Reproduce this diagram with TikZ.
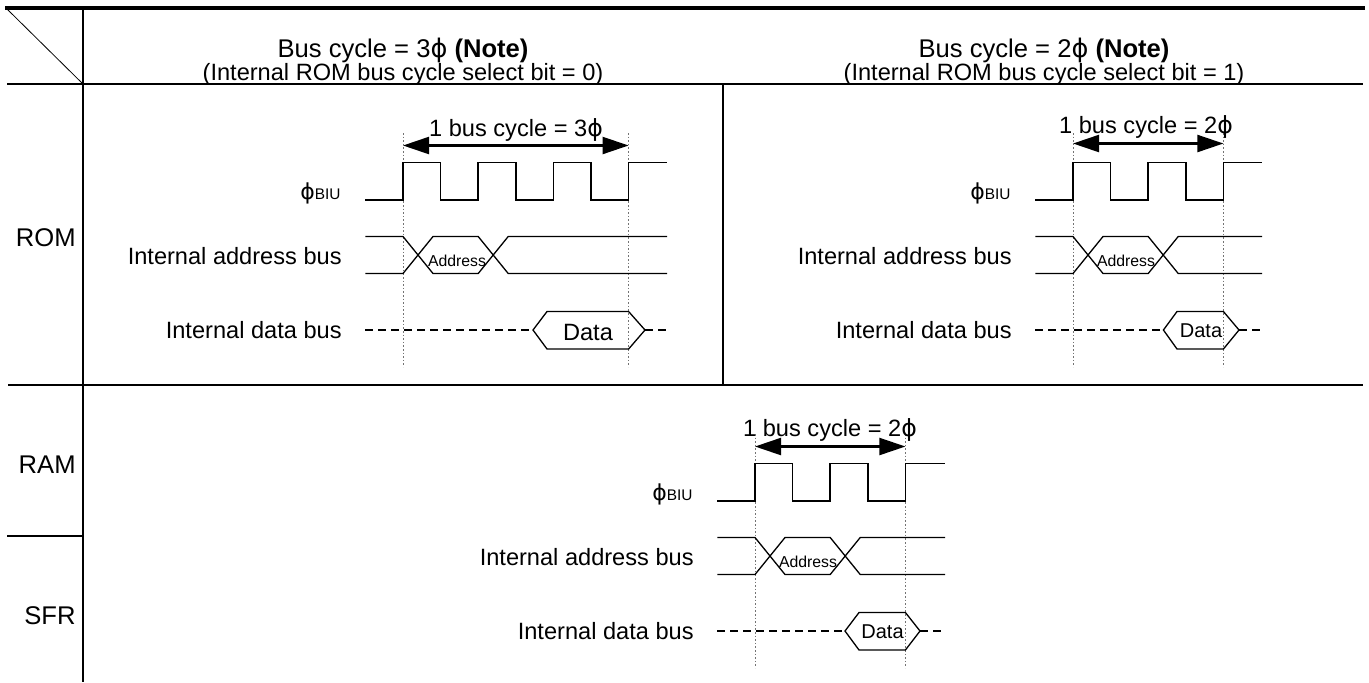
\documentclass[tikz,border=0pt]{standalone}
\usepackage{fontspec}
\setmainfont{Liberation Sans}
\newfontfamily\phfont{DejaVu Sans}
\usetikzlibrary{arrows.meta}
\newcommand{\phis}{{\phfont ϕ}}
\tikzstyle{rule}=[line width=0.85pt]
\tikzstyle{toprule}=[line width=2pt]
\tikzstyle{midrule}=[line width=1.35pt]
\tikzstyle{clk}=[line width=0.85pt]
\tikzstyle{bus}=[line width=0.65pt]
\tikzstyle{idle}=[line width=0.65pt,dash pattern=on 4pt off 2.5pt]
\tikzstyle{guide}=[line width=0.5pt,black!55,dash pattern=on 0.8pt off 1pt]
\tikzstyle{cyc}=[line width=1.1pt,{Triangle[length=13pt,width=8.5pt]}-{Triangle[length=13pt,width=8.5pt]}]
\tikzstyle{txt}=[inner sep=0pt,anchor=base,font=\fontsize{11.8}{14}\selectfont]
\tikzstyle{head}=[inner sep=0pt,anchor=base,font=\fontsize{12.8}{15}\selectfont]
\tikzstyle{siglbl}=[txt,anchor=base east]
\tikzstyle{rowlbl}=[inner sep=0pt,anchor=base east,font=\fontsize{12.8}{15}\selectfont]
\tikzstyle{tiny}=[inner sep=0pt,anchor=base,font=\fontsize{7.9}{9}\selectfont]
\tikzstyle{dat}=[inner sep=0pt,anchor=base,font=\fontsize{10}{12}\selectfont]
\newcommand{\biu}{\fontsize{11}{13}\selectfont\phis\fontsize{7.7}{9}\selectfont BIU}

\begin{document}
\begin{tikzpicture}[x=0.5pt,y=-0.5pt]
\useasboundingbox (0,0) rectangle (1369,682);

        % table
        \draw[toprule] (5,7.5) -- (1365,7.5);
        \draw[midrule] (7,84) -- (1363,84);
        \draw[midrule] (83,9) -- (83,682);
        \draw[rule] (8,385) -- (1363,385);
        \draw[rule] (723,84) -- (723,385);
        \draw[line width=0.7pt] (7,536) -- (83,536);
        \draw[line width=0.4pt] (7,9) -- (83,84);

        \node[head] (h1) at (403,57.5) {Bus cycle = 3\phis{} \textbf{(Note)}};
        \node[txt] (h1b) at (403,80) {(Internal ROM bus cycle select bit = 0)};
        \node[head] (h2) at (1044,57.5) {Bus cycle = 2\phis{} \textbf{(Note)}};
        \node[txt] (h2b) at (1044,80) {(Internal ROM bus cycle select bit = 1)};

        \node[rowlbl] (rom) at (76,246.5) {ROM};
        \node[rowlbl] (ram) at (76,473) {RAM};
        \node[rowlbl] (sfr) at (76,624) {SFR};

        % ROM, 3 phi
        \node[siglbl] (clkA) at (341,199) {\biu};
        \node[siglbl] (adrA) at (342,264) {Internal address bus};
        \node[siglbl] (datA) at (342,338) {Internal data bus};

        \draw[guide] (403,133) -- (403,367);
        \draw[guide] (628.6,133) -- (628.6,367);

        \coordinate (a1) at (403,145.5);
        \coordinate (b1) at (628.6,145.5);
        \draw[cyc] (a1) -- (b1);
        \node[txt] (cycA) at (516,136) {1 bus cycle = 3\phis};

        \draw[clk] (365.4,200) -- (403,200) -- (403,162.5) -- (440.6,162.5)
        -- (440.6,200) -- (478.2,200) -- (478.2,162.5) -- (515.8,162.5)
        -- (515.8,200) -- (553.4,200) -- (553.4,162.5) -- (591,162.5)
        -- (591,200) -- (628.6,200) -- (628.6,162.5) -- (667,162.5);

        \draw[bus]
        (365.4,236.5) -- (403,236.5) -- (433,273.5) -- (478.2,273.5) -- (508.2,236.5) -- (667,236.5)
        (365.4,273.5) -- (403,273.5) -- (433,236.5) -- (478.2,236.5) -- (508.2,273.5) -- (667,273.5);
        \node[tiny] (adA) at (457,266.5) {Address};

        \draw[idle] (365.4,330) -- (533,330) (645,330) -- (667,330);
        \draw[bus] (533,330) -- (547,311.5) -- (628.6,311.5) -- (645,330)
        -- (628.6,349) -- (547,349) -- cycle;
        \node[txt] (dtA) at (588,340) {Data};

        % ROM, 2 phi
        \node[siglbl] (clkB) at (1011,199) {\biu};
        \node[siglbl] (adrB) at (1012,264) {Internal address bus};
        \node[siglbl] (datB) at (1012,338) {Internal data bus};

        \draw[guide] (1073,133) -- (1073,367);
        \draw[guide] (1223.4,133) -- (1223.4,367);

        \coordinate (a2) at (1073,143.5);
        \coordinate (b2) at (1223.4,143.5);
        \draw[cyc] (a2) -- (b2);
        \node[txt] (cycB) at (1146,133.5) {1 bus cycle = 2\phis};

        \draw[clk] (1035.4,200) -- (1073,200) -- (1073,162.5) -- (1110.6,162.5)
        -- (1110.6,200) -- (1148.2,200) -- (1148.2,162.5) -- (1185.8,162.5)
        -- (1185.8,200) -- (1223.4,200) -- (1223.4,162.5) -- (1262,162.5);

        \draw[bus]
        (1035.4,236.5) -- (1073,236.5) -- (1103,273.5) -- (1148.2,273.5) -- (1178.2,236.5) -- (1262,236.5)
        (1035.4,273.5) -- (1073,273.5) -- (1103,236.5) -- (1148.2,236.5) -- (1178.2,273.5) -- (1262,273.5);
        \node[tiny] (adB) at (1126,266.5) {Address};

        \draw[idle] (1035.4,330) -- (1163.4,330) (1239,330) -- (1262,330);
        \draw[bus] (1163.4,330) -- (1177,311.5) -- (1223.4,311.5) -- (1239,330)
        -- (1223.4,349) -- (1177,349) -- cycle;
        \node[dat] (dtB) at (1201,337) {Data};

        % RAM / SFR, 2 phi
        \node[siglbl] (clkC) at (693,500) {\biu};
        \node[siglbl] (adrC) at (694,565) {Internal address bus};
        \node[siglbl] (datC) at (694,639) {Internal data bus};

        \draw[guide] (755,434) -- (755,668);
        \draw[guide] (905.4,434) -- (905.4,668);

        \coordinate (a3) at (755,446.5);
        \coordinate (b3) at (905.4,446.5);
        \draw[cyc] (a3) -- (b3);
        \node[txt] (cycC) at (830,436.5) {1 bus cycle = 2\phis};

        \draw[clk] (717.4,501) -- (755,501) -- (755,463.5) -- (792.6,463.5)
        -- (792.6,501) -- (830.2,501) -- (830.2,463.5) -- (867.8,463.5)
        -- (867.8,501) -- (905.4,501) -- (905.4,463.5) -- (945,463.5);

        \draw[bus]
        (717.4,537.5) -- (755,537.5) -- (785,574.5) -- (830.2,574.5) -- (860.2,537.5) -- (945,537.5)
        (717.4,574.5) -- (755,574.5) -- (785,537.5) -- (830.2,537.5) -- (860.2,574.5) -- (945,574.5);
        \node[tiny] (adC) at (808,567.5) {Address};

        \draw[idle] (717.4,631) -- (845,631) (920,631) -- (945,631);
        \draw[bus] (845,631) -- (859,612.5) -- (905.4,612.5) -- (920,631)
        -- (905.4,650) -- (859,650) -- cycle;
        \node[dat] (dtC) at (882.5,638) {Data};

\end{tikzpicture}
\end{document}
